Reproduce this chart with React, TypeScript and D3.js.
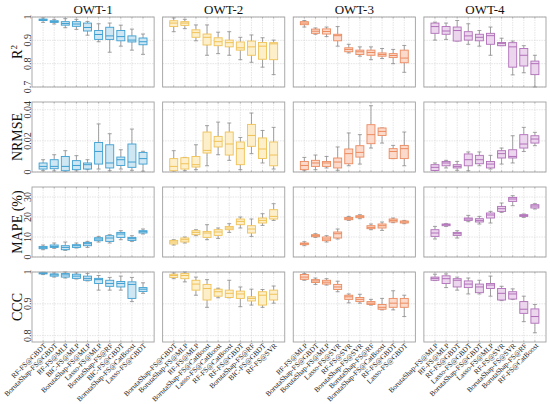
import React from 'react';
import * as d3 from 'd3';

// each box: [lower whisker, q1, median, q3, upper whisker]
type Box = number[];

const groups = ['OWT-1', 'OWT-2', 'OWT-3', 'OWT-4'];

const modelsOwt1 = [
  'RF-FS@GBDT', 'BorutaShap-FS@GBDT', 'RF-FS@MLP', 'BIC-FS@MLP', 'BorutaShap-FS@MLP',
  'Lasso-FS@MLP', 'BorutaShap-FS@RF', 'BIC-FS@GBDT', 'BorutaShap-FS@CatBoost', 'Lasso-FS@GBDT',
];
const modelsOwt2 = [
  'BorutaShap-FS@GBDT', 'BorutaShap-FS@MLP', 'RF-FS@MLP', 'BorutaShap-FS@CatBoost', 'Lasso-FS@CatBoost',
  'RF-FS@CatBoost', 'RF-FS@GBDT', 'BorutaShap-FS@RF', 'BIC-FS@GBDT', 'RF-FS@SVR',
];
const modelsOwt3 = [
  'RF-FS@MLP', 'BorutaShap-FS@GBDT', 'BorutaShap-FS@MLP', 'Lasso-FS@SVR', 'RF-FS@SVR',
  'BorutaShap-FS@SVR', 'BorutaShap-FS@RF', 'BorutaShap-FS@CatBoost', 'RF-FS@GBDT', 'Lasso-FS@GBDT',
];
const modelsOwt4 = [
  'BorutaShap-FS@MLP', 'RF-FS@MLP', 'RF-FS@GBDT', 'Lasso-FS@GBDT', 'BorutaShap-FS@GBDT',
  'Lasso-FS@MLP', 'RF-FS@SVR', 'BorutaShap-FS@SVR', 'BorutaShap-FS@RF', 'RF-FS@CatBoost',
];

const r2Owt1: Box[] = [
  [0.977, 0.985, 0.988, 0.991, 0.996], [0.970, 0.977, 0.980, 0.984, 0.990],
  [0.954, 0.965, 0.972, 0.980, 0.993], [0.947, 0.960, 0.970, 0.980, 0.990],
  [0.922, 0.940, 0.955, 0.974, 0.981], [0.894, 0.904, 0.925, 0.942, 0.971],
  [0.849, 0.904, 0.919, 0.956, 0.974], [0.875, 0.898, 0.916, 0.942, 0.965],
  [0.858, 0.893, 0.901, 0.919, 0.948], [0.840, 0.881, 0.894, 0.910, 0.927],
];
const r2Owt2: Box[] = [
  [0.937, 0.959, 0.974, 0.984, 0.996], [0.950, 0.964, 0.974, 0.980, 0.990],
  [0.898, 0.913, 0.933, 0.945, 0.966], [0.836, 0.880, 0.913, 0.927, 0.966],
  [0.843, 0.877, 0.894, 0.911, 0.935], [0.836, 0.872, 0.890, 0.901, 0.937],
  [0.817, 0.858, 0.868, 0.893, 0.913], [0.806, 0.836, 0.872, 0.897, 0.923],
  [0.785, 0.819, 0.875, 0.891, 0.911], [0.753, 0.817, 0.885, 0.890, 0.901],
];
const r2Owt3: Box[] = [
  [0.957, 0.967, 0.974, 0.980, 0.985], [0.926, 0.930, 0.939, 0.948, 0.953],
  [0.916, 0.927, 0.938, 0.949, 0.957], [0.875, 0.898, 0.920, 0.926, 0.959],
  [0.846, 0.851, 0.861, 0.868, 0.883], [0.832, 0.839, 0.851, 0.858, 0.872],
  [0.817, 0.836, 0.848, 0.858, 0.872], [0.822, 0.832, 0.839, 0.846, 0.865],
  [0.800, 0.826, 0.835, 0.843, 0.861], [0.763, 0.804, 0.824, 0.858, 0.878],
];
const r2Owt4: Box[] = [
  [0.901, 0.930, 0.959, 0.974, 0.978], [0.904, 0.926, 0.940, 0.959, 0.974],
  [0.897, 0.897, 0.942, 0.957, 0.985], [0.883, 0.901, 0.919, 0.937, 0.971],
  [0.875, 0.898, 0.913, 0.926, 0.942], [0.836, 0.883, 0.920, 0.930, 0.957],
  [0.877, 0.877, 0.887, 0.891, 0.909], [0.752, 0.785, 0.872, 0.890, 0.897],
  [0.761, 0.790, 0.836, 0.865, 0.877], [0.700, 0.753, 0.800, 0.811, 0.836],
];

const nrmseOwt1: Box[] = [
  [0.0008, 0.0019, 0.0036, 0.0058, 0.0079], [0.0007, 0.0021, 0.0036, 0.0079, 0.0111],
  [0.0005, 0.0008, 0.0036, 0.0100, 0.0137], [0.0007, 0.0015, 0.0042, 0.0073, 0.0105],
  [0.0015, 0.0019, 0.0047, 0.0058, 0.0079], [0.0019, 0.0051, 0.0132, 0.0190, 0.0309],
  [0.0008, 0.0026, 0.0058, 0.0175, 0.0246], [0.0019, 0.0042, 0.0079, 0.0096, 0.0143],
  [0.0011, 0.0030, 0.0064, 0.0180, 0.0276], [0.0005, 0.0051, 0.0086, 0.0126, 0.0133],
];
const nrmseOwt2: Box[] = [
  [0.0006, 0.0008, 0.0036, 0.0086, 0.0137], [0.0008, 0.0019, 0.0053, 0.0092, 0.0094],
  [0.0015, 0.0032, 0.0047, 0.0100, 0.0175], [0.0040, 0.0122, 0.0139, 0.0257, 0.0298],
  [0.0111, 0.0161, 0.0197, 0.0229, 0.0321], [0.0075, 0.0109, 0.0180, 0.0257, 0.0315],
  [0.0015, 0.0047, 0.0150, 0.0193, 0.0222], [0.0118, 0.0165, 0.0235, 0.0306, 0.0379],
  [0.0058, 0.0087, 0.0148, 0.0219, 0.0267], [0.0019, 0.0040, 0.0109, 0.0193, 0.0287],
];
const nrmseOwt3: Box[] = [
  [0.0008, 0.0015, 0.0042, 0.0068, 0.0094], [0.0015, 0.0036, 0.0058, 0.0075, 0.0109],
  [0.0026, 0.0036, 0.0058, 0.0068, 0.0100], [0.0011, 0.0026, 0.0064, 0.0090, 0.0161],
  [0.0040, 0.0053, 0.0118, 0.0148, 0.0251], [0.0051, 0.0096, 0.0126, 0.0169, 0.0240],
  [0.0154, 0.0182, 0.0240, 0.0304, 0.0426], [0.0186, 0.0235, 0.0261, 0.0283, 0.0283],
  [0.0086, 0.0086, 0.0132, 0.0150, 0.0171], [0.0040, 0.0086, 0.0150, 0.0171, 0.0257],
];
const nrmseOwt4: Box[] = [
  [0.0010, 0.0010, 0.0030, 0.0047, 0.0058], [0.0026, 0.0040, 0.0058, 0.0068, 0.0075],
  [0.0011, 0.0026, 0.0036, 0.0047, 0.0068], [0.0008, 0.0040, 0.0079, 0.0116, 0.0129],
  [0.0040, 0.0053, 0.0079, 0.0107, 0.0129], [0.0019, 0.0026, 0.0051, 0.0068, 0.0107],
  [0.0051, 0.0090, 0.0118, 0.0137, 0.0154], [0.0058, 0.0090, 0.0100, 0.0143, 0.0233],
  [0.0132, 0.0154, 0.0180, 0.0240, 0.0287], [0.0169, 0.0186, 0.0212, 0.0233, 0.0255],
];

const mapeOwt1: Box[] = [
  [3.65, 4.15, 4.65, 5.3, 6.0], [4.3, 4.8, 5.3, 6.0, 7.0], [3.3, 3.65, 4.8, 5.65, 7.5],
  [4.5, 4.8, 5.65, 6.15, 7.0], [4.8, 5.65, 6.65, 7.3, 7.8], [7.5, 8.15, 9.0, 9.65, 10.3],
  [7.0, 7.8, 9.5, 10.65, 11.15], [8.65, 9.8, 11.5, 12.3, 13.15], [7.8, 8.3, 9.15, 9.8, 10.65],
  [11.5, 12.0, 12.65, 13.15, 14.0],
];
const mapeOwt2: Box[] = [
  [6.0, 6.5, 7.5, 8.3, 8.65], [7.0, 7.5, 8.65, 9.5, 10.0], [10.65, 11.15, 12.3, 13.15, 13.65],
  [8.65, 9.8, 12.0, 12.8, 16.15], [9.3, 10.8, 12.5, 13.65, 14.5], [12.3, 13.65, 14.5, 15.3, 16.65],
  [14.5, 16.15, 17.8, 19.0, 20.0], [10.3, 12.0, 14.0, 15.65, 19.0], [15.8, 17.0, 18.3, 19.5, 21.65],
  [18.3, 19.0, 20.3, 23.65, 26.65],
];
const mapeOwt3: Box[] = [
  [5.65, 6.15, 6.65, 7.0, 7.65], [9.8, 10.15, 10.65, 11.15, 11.65], [7.5, 8.15, 9.0, 10.0, 10.65],
  [9.0, 9.5, 11.65, 12.5, 14.0], [18.3, 18.65, 19.15, 19.8, 20.3], [19.15, 19.65, 20.15, 20.65, 21.15],
  [13.65, 14.15, 14.8, 15.65, 16.5], [13.3, 14.5, 15.65, 16.5, 17.5], [17.15, 17.5, 18.3, 19.0, 19.5],
  [16.65, 17.0, 17.5, 18.0, 18.3],
];
const mapeOwt4: Box[] = [
  [9.0, 10.3, 12.0, 13.65, 15.3], [15.3, 15.65, 16.15, 16.5, 16.65], [9.5, 10.8, 11.65, 12.3, 13.15],
  [17.65, 18.3, 19.0, 19.5, 20.8], [16.5, 17.5, 18.3, 19.15, 20.3], [17.0, 19.5, 21.0, 22.0, 22.8],
  [22.3, 22.8, 24.15, 25.3, 27.0], [25.65, 27.8, 29.0, 29.8, 30.65], [19.8, 20.3, 20.8, 21.15, 21.5],
  [24.0, 24.5, 25.5, 26.15, 26.65],
];

const cccOwt1: Box[] = [
  [0.992, 0.994, 0.996, 0.998, 0.999], [0.984, 0.987, 0.991, 0.994, 0.997],
  [0.981, 0.984, 0.991, 0.995, 1.0], [0.978, 0.980, 0.987, 0.993, 0.997],
  [0.972, 0.974, 0.980, 0.987, 0.995], [0.943, 0.964, 0.976, 0.980, 0.989],
  [0.943, 0.955, 0.964, 0.974, 0.983], [0.943, 0.953, 0.964, 0.970, 0.987],
  [0.907, 0.917, 0.961, 0.969, 0.983], [0.933, 0.939, 0.946, 0.951, 0.966],
];
const cccOwt2: Box[] = [
  [0.979, 0.983, 0.989, 0.993, 0.997], [0.969, 0.979, 0.989, 0.995, 1.0],
  [0.927, 0.943, 0.962, 0.974, 0.984], [0.889, 0.912, 0.948, 0.961, 0.976],
  [0.919, 0.924, 0.938, 0.946, 0.949], [0.919, 0.920, 0.933, 0.943, 0.974],
  [0.891, 0.917, 0.931, 0.940, 0.953], [0.896, 0.909, 0.917, 0.922, 0.946],
  [0.889, 0.896, 0.927, 0.938, 0.945], [0.902, 0.912, 0.930, 0.943, 0.956],
];
const cccOwt3: Box[] = [
  [0.974, 0.977, 0.984, 0.992, 0.995], [0.961, 0.967, 0.972, 0.976, 0.981],
  [0.959, 0.962, 0.968, 0.974, 0.979], [0.938, 0.945, 0.953, 0.961, 0.971],
  [0.903, 0.914, 0.922, 0.927, 0.931], [0.902, 0.907, 0.914, 0.920, 0.930],
  [0.896, 0.898, 0.902, 0.907, 0.914], [0.881, 0.883, 0.889, 0.898, 0.917],
  [0.881, 0.889, 0.902, 0.917, 0.941], [0.860, 0.889, 0.902, 0.917, 0.927],
];
const cccOwt4: Box[] = [
  [0.973, 0.974, 0.980, 0.984, 0.993], [0.951, 0.964, 0.979, 0.988, 0.994],
  [0.943, 0.953, 0.974, 0.979, 0.984], [0.931, 0.951, 0.962, 0.972, 0.981],
  [0.931, 0.935, 0.953, 0.962, 0.974], [0.924, 0.948, 0.959, 0.964, 0.987],
  [0.910, 0.912, 0.933, 0.948, 0.955], [0.914, 0.915, 0.931, 0.938, 0.947],
  [0.844, 0.870, 0.883, 0.907, 0.924], [0.809, 0.839, 0.860, 0.884, 0.898],
];

const models = [modelsOwt1, modelsOwt2, modelsOwt3, modelsOwt4];

const metrics = [
  { label: 'R', sup: '2', domain: [0.7, 1], ticks: [0.7, 0.8, 0.9, 1], data: [r2Owt1, r2Owt2, r2Owt3, r2Owt4] },
  { label: 'NRMSE', sup: '', domain: [0, 0.045], ticks: [0, 0.02, 0.04], data: [nrmseOwt1, nrmseOwt2, nrmseOwt3, nrmseOwt4] },
  { label: 'MAPE (%)', sup: '', domain: [0, 35], ticks: [0, 10, 20, 30], data: [mapeOwt1, mapeOwt2, mapeOwt3, mapeOwt4] },
  { label: 'CCC', sup: '', domain: [0.78, 1], ticks: [0.8, 0.9, 1], data: [cccOwt1, cccOwt2, cccOwt3, cccOwt4] },
];

const strokes = ['#3d9fd1', '#f0c256', '#ec8a5e', '#b06fb8'];
const fills = ['#cfe6f3', '#fcefca', '#fbdacb', '#ecd6ee'];

const W = 550;
const H = 404;
const left = 32;
const right = 546;
const top = 17;
const rowH = 70;
const rowStep = 85;
const colGap = 8.5;
const colW = (right - left - 3 * colGap) / 4;
const font = "'Liberation Serif', 'Times New Roman', serif";

const App: React.FC = () => {
  const boxW = 8;
  const gridStyle = { stroke: '#d4d4d4', strokeWidth: 0.6, strokeDasharray: '1.5,1' };
  return (
    <div style={{ position: 'absolute', left: 0, top: 0 }}>
      <svg width={W} height={H} style={{ display: 'block', background: '#fff' }} fontFamily={font} fontWeight={400}>
        {groups.map((g, ci) => {
          const x0 = left + ci * (colW + colGap);
          return (
            <text key={g} x={x0 + colW / 2} y={13.5} textAnchor="middle" fontSize={13} fill="#111">
              {g}
            </text>
          );
        })}
        {metrics.map((m, ri) => {
          const y0 = top + ri * rowStep;
          const y = d3.scaleLinear().domain(m.domain).range([y0 + rowH, y0]);
          const midY = y0 + rowH / 2;
          return (
            <g key={m.label}>
              <text transform={`translate(22,${midY}) rotate(-90)`} textAnchor="middle" fontSize={14} fill="#111">
                {m.label}
                {m.sup && (
                  <tspan dy={-5} fontSize={9}>
                    {m.sup}
                  </tspan>
                )}
              </text>
              {m.ticks.map((t) => (
                <text
                  key={t}
                  transform={`translate(30.5,${y(t)}) rotate(-90)`}
                  textAnchor="middle"
                  fontSize={10}
                  fill="#333"
                >
                  {d3.format('~g')(t)}
                </text>
              ))}
              {groups.map((g, ci) => {
                const x0 = left + ci * (colW + colGap);
                const x = d3.scalePoint<number>().domain(d3.range(10)).range([x0, x0 + colW]).padding(1);
                const boxes = m.data[ci];
                return (
                  <g key={g}>
                    <rect x={x0} y={y0} width={colW} height={rowH} fill="#fff" />
                    {d3.range(10).map((i) => (
                      <line key={'v' + i} x1={x(i)} x2={x(i)} y1={y0} y2={y0 + rowH} {...gridStyle} />
                    ))}
                    {m.ticks.map((t) => (
                      <line key={'h' + t} x1={x0} x2={x0 + colW} y1={y(t)} y2={y(t)} {...gridStyle} />
                    ))}
                    {d3.range(10).map((i) => (
                      <g key={'t' + i} stroke="#9a9a9a" strokeWidth={0.7}>
                        <line x1={x(i)} x2={x(i)} y1={y0 + rowH} y2={y0 + rowH - 1.5} />
                        <line x1={x(i)} x2={x(i)} y1={y0} y2={y0 + 1.5} />
                      </g>
                    ))}
                    {boxes.map((b, i) => {
                      const cx = x(i) as number;
                      return (
                        <g key={'b' + i}>
                          <line x1={cx} x2={cx} y1={y(b[4])} y2={y(b[3])} stroke="#8a8a8a" strokeWidth={0.8} />
                          <line x1={cx} x2={cx} y1={y(b[1])} y2={y(b[0])} stroke="#8a8a8a" strokeWidth={0.8} />
                          <line x1={cx - 2} x2={cx + 2} y1={y(b[4])} y2={y(b[4])} stroke="#8a8a8a" strokeWidth={0.8} />
                          <line x1={cx - 2} x2={cx + 2} y1={y(b[0])} y2={y(b[0])} stroke="#8a8a8a" strokeWidth={0.8} />
                          <rect
                            x={cx - boxW / 2}
                            y={y(b[3])}
                            width={boxW}
                            height={Math.max(0.8, y(b[1]) - y(b[3]))}
                            fill={fills[ci]}
                            stroke={strokes[ci]}
                            strokeWidth={0.9}
                          />
                          <line
                            x1={cx - boxW / 2}
                            x2={cx + boxW / 2}
                            y1={y(b[2])}
                            y2={y(b[2])}
                            stroke={strokes[ci]}
                            strokeWidth={1}
                          />
                        </g>
                      );
                    })}
                    <rect x={x0} y={y0} width={colW} height={rowH} fill="none" stroke="#a0a0a0" strokeWidth={0.9} />
                    {ri === metrics.length - 1 &&
                      models[ci].map((name, i) => (
                        <text
                          key={'l' + i}
                          transform={`translate(${(x(i) as number) + 2.5},${y0 + rowH + 3}) rotate(-45)`}
                          textAnchor="end"
                          dominantBaseline="middle"
                          fontSize={7.3}
                          fill="#222"
                        >
                          {name}
                        </text>
                      ))}
                  </g>
                );
              })}
            </g>
          );
        })}
      </svg>
    </div>
  );
};

export default App;
